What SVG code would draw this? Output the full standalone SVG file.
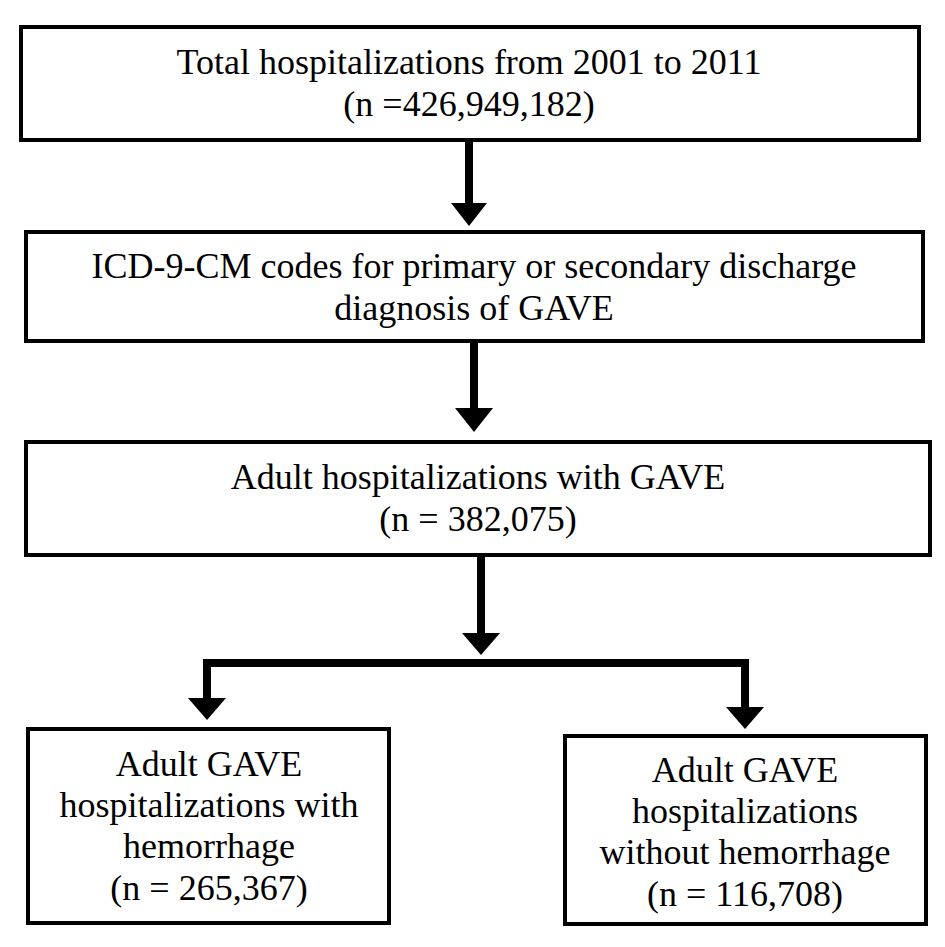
<svg xmlns="http://www.w3.org/2000/svg" width="945" height="947" viewBox="0 0 945 947">
<defs>
<style>
.box{fill:#fff;stroke:#000;stroke-width:4}
.t{font-family:"Liberation Serif","Times New Roman",serif;font-size:36px;fill:#000;text-anchor:middle}
.c{fill:none;stroke:#000;stroke-width:8}
.h{fill:#000}
</style>
</defs>
<rect width="945" height="947" fill="#fff"/>
<g id="connectors">
<line class="c" x1="469" y1="141" x2="469" y2="205"/>
<polygon class="h" points="451,203 487,203 469,226"/>
<line class="c" x1="474" y1="343" x2="474" y2="410"/>
<polygon class="h" points="455,408 493,408 474,432"/>
<line class="c" x1="481" y1="557" x2="481" y2="635"/>
<polygon class="h" points="462,633 500,633 481,655"/>
<polyline class="c" points="207,700 207,663 745,663 745,709"/>
<polygon class="h" points="188,698 226,698 207,720"/>
<polygon class="h" points="726,707 764,707 745,729"/>
</g>
<g id="node1">
<rect class="box" x="21" y="27" width="898" height="113"/>
<text class="t" x="469" y="74">Total hospitalizations from 2001 to 2011</text>
<text class="t" x="469" y="116">(n =426,949,182)</text>
</g>
<g id="node2">
<rect class="box" x="26" y="232" width="897" height="109"/>
<text class="t" x="474" y="278">ICD-9-CM codes for primary or secondary discharge</text>
<text class="t" x="474" y="320">diagnosis of GAVE</text>
</g>
<g id="node3">
<rect class="box" x="26" y="442" width="904" height="113"/>
<text class="t" x="478" y="489">Adult hospitalizations with GAVE</text>
<text class="t" x="478" y="531">(n = 382,075)</text>
</g>
<g id="node4">
<rect class="box" x="28" y="729" width="361" height="194"/>
<text class="t" x="209" y="776">Adult GAVE</text>
<text class="t" x="209" y="817">hospitalizations with</text>
<text class="t" x="209" y="858">hemorrhage</text>
<text class="t" x="209" y="900">(n = 265,367)</text>
</g>
<g id="node5">
<rect class="box" x="565" y="736" width="361" height="188"/>
<text class="t" x="745" y="782">Adult GAVE</text>
<text class="t" x="745" y="823">hospitalizations</text>
<text class="t" x="745" y="864">without hemorrhage</text>
<text class="t" x="745" y="906">(n = 116,708)</text>
</g>
</svg>
